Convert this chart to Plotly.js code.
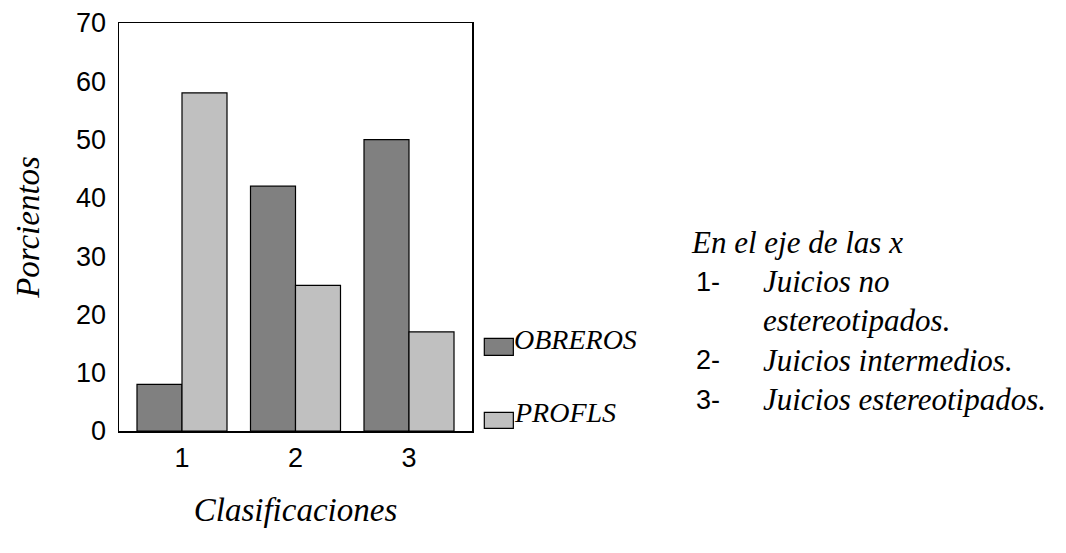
<!DOCTYPE html>
<html>
<head>
<meta charset="utf-8">
<script src="https://cdn.plot.ly/plotly-3.0.1.min.js"></script>
<style>html,body{margin:0;padding:0;background:#fff;}#chart{width:1066px;height:553px;}</style>
</head>
<body>
<div id="chart"></div>
<script>
// ---- data ----
const categories = [1, 2, 3];
const categoryLabels = ['1', '2', '3'];
const seriesNames = ['OBREROS', 'PROFLS'];
const obreros = [8, 42, 50];
const profls = [58, 25, 17];
const yTickValues = [0, 10, 20, 30, 40, 50, 60, 70];
const yTitle = 'Porcientos';
const xTitle = 'Clasificaciones';
const noteTitle = 'En el eje de las x';
const noteNums = ['1-', '2-', '3-'];
const noteTexts = ['Juicios no<br>estereotipados.', 'Juicios intermedios.', 'Juicios estereotipados.'];

// ---- styling ----
const W = 1066, H = 553;
const plotL = 119, plotR = 471.7, plotT = 22.7, plotB = 430.7;
const colors = ['#808080', '#c0c0c0'];
const sans = 'Liberation Sans, Arial, sans-serif';
const serif = 'Liberation Serif, Times New Roman, serif';
const px2x = p => (p - plotL) / (plotR - plotL);
const px2y = p => (plotB - p) / (plotB - plotT);

const traces = [obreros, profls].map((vals, i) => ({
  type: 'bar',
  x: categories,
  y: vals,
  name: seriesNames[i],
  marker: {color: colors[i], line: {color: '#000', width: 1.2}},
  showlegend: false,
  hoverinfo: 'none'
}));

const shapes = [];
const annotations = [];

// manual legend
const legendBoxes = [[338, 355], [412, 428]];
const legendTextY = [339, 412];
seriesNames.forEach((n, i) => {
  shapes.push({
    type: 'rect', xref: 'paper', yref: 'paper',
    x0: px2x(484), x1: px2x(513),
    y0: px2y(legendBoxes[i][1]), y1: px2y(legendBoxes[i][0]),
    fillcolor: colors[i], line: {color: '#000', width: 1.2}
  });
  annotations.push({
    xref: 'paper', yref: 'paper', x: px2x(512), y: px2y(legendTextY[i]),
    xanchor: 'left', yanchor: 'middle', showarrow: false,
    text: '<i>' + n + '</i>', font: {family: serif, size: 28, color: '#000'}
  });
});

// side note
const lineStep = 39.3;
let yPos = 242;
annotations.push({
  xref: 'paper', yref: 'paper', x: px2x(689), y: px2y(yPos),
  xanchor: 'left', yanchor: 'middle', showarrow: false,
  text: '<i>' + noteTitle + '</i>', font: {family: serif, size: 31, color: '#000'}
});
noteNums.forEach((num, i) => {
  const parts = noteTexts[i].split('<br>');
  parts.forEach((p, j) => {
    yPos += lineStep;
    if (j === 0) {
      annotations.push({
        xref: 'paper', yref: 'paper', x: px2x(694), y: px2y(yPos),
        xanchor: 'left', yanchor: 'middle', showarrow: false,
        text: num, font: {family: sans, size: 27, color: '#000'}
      });
    }
    annotations.push({
      xref: 'paper', yref: 'paper', x: px2x(760), y: px2y(yPos),
      xanchor: 'left', yanchor: 'middle', showarrow: false,
      text: '<i>' + p + '</i>', font: {family: serif, size: 31, color: '#000'}
    });
  });
});

const layout = {
  width: W, height: H,
  margin: {l: plotL, r: W - plotR, t: plotT, b: H - plotB, pad: 0},
  paper_bgcolor: '#fff', plot_bgcolor: '#fff',
  barmode: 'group', bargap: 0.207, bargroupgap: 0,
  xaxis: {
    range: [0.445, 3.555], tickvals: categories, ticktext: categoryLabels,
    showgrid: false, zeroline: false, showline: true, mirror: true,
    linecolor: '#000', linewidth: 1.5, ticks: '', ticklabelstandoff: 2,
    tickfont: {family: sans, size: 27, color: '#000'},
    title: {text: '<i>' + xTitle + '</i>', font: {family: serif, size: 33, color: '#000'}, standoff: 26}
  },
  yaxis: {
    range: [0, 70], tickvals: yTickValues,
    showgrid: false, zeroline: false, showline: true, mirror: true,
    linecolor: '#000', linewidth: 1.5, ticks: '', ticklabelstandoff: 6,
    tickfont: {family: sans, size: 27, color: '#000'},
    title: {text: '<i>' + yTitle + '</i>', font: {family: serif, size: 33, color: '#000'}, standoff: 26}
  },
  shapes: shapes,
  annotations: annotations
};

Plotly.newPlot('chart', traces, layout, {displayModeBar: false, staticPlot: true});
</script>
</body>
</html>
